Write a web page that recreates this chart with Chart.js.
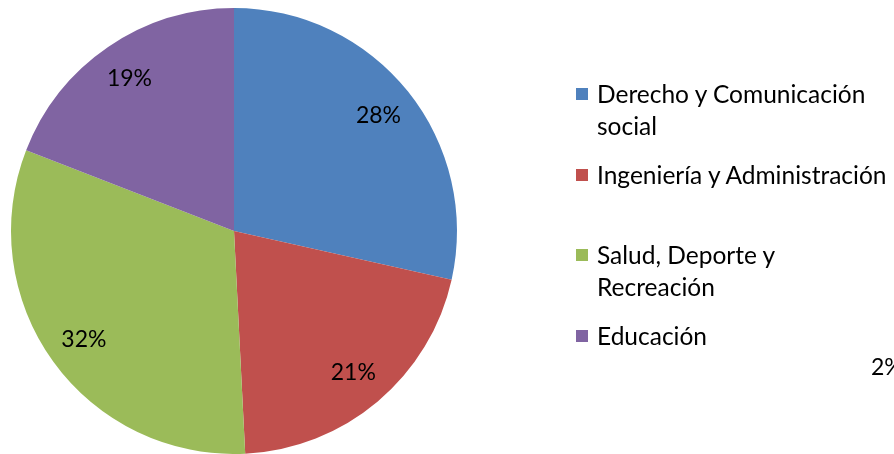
<!DOCTYPE html>
<html>
<head>
<meta charset="utf-8">
<script src="https://cdn.jsdelivr.net/npm/chart.js@4.4.1/dist/chart.umd.min.js"></script>
<style>
  html, body { margin: 0; padding: 0; background: #fff; overflow: hidden; }
  #wrap { position: relative; width: 894px; height: 454px; overflow: hidden; font-family: Lato, "Open Sans", sans-serif; color: #000; }
  #chart { position: absolute; left: 0; top: 0; }
  .item { position: absolute; left: 576px; font-size: 24.5px; line-height: 32px; white-space: nowrap; }
  .item .box { position: absolute; left: 0; top: 10px; width: 12px; height: 12px; }
  .item .txt { position: absolute; left: 21px; top: 0; }
  #stray { position: absolute; left: 871px; top: 352px; font-size: 23px; white-space: nowrap; }
</style>
</head>
<body>
<div id="wrap">
  <canvas id="chart" width="894" height="454"></canvas>
  <div id="legend"></div>
  <div id="stray">2%</div>
</div>
<script>
// categories (legend lines) and share of each slice, in percent
const categories = [
  ["Derecho y Comunicación", "social"],
  ["Ingeniería y Administración"],
  ["Salud, Deporte y", "Recreación"],
  ["Educación"]
];
const shares = [28.5, 20.7, 31.7, 19.1];
const shareLabels = ["28%", "21%", "32%", "19%"];
const colors = ["#4F81BD", "#C0504D", "#9BBB59", "#8064A2"];

// legend built in html
const legend = document.getElementById("legend");
categories.forEach((lines, i) => {
  const el = document.createElement("div");
  el.className = "item";
  el.style.top = (78 + i * 80.5) + "px";
  el.innerHTML = `<span class="box" style="background:${colors[i]}"></span><span class="txt">${lines.join("<br>")}</span>`;
  legend.appendChild(el);
});

// percent labels inside the slices
const sliceLabels = {
  id: "sliceLabels",
  afterDatasetsDraw(chart) {
    const ctx = chart.ctx;
    const meta = chart.getDatasetMeta(0);
    ctx.save();
    ctx.font = "23px Lato, 'Open Sans', sans-serif";
    ctx.fillStyle = "#000";
    ctx.textAlign = "center";
    ctx.textBaseline = "middle";
    meta.data.forEach((arc, i) => {
      const p = arc.getProps(["x", "y", "startAngle", "endAngle", "outerRadius"], true);
      const mid = (p.startAngle + p.endAngle) / 2;
      const r = p.outerRadius * 0.83;
      ctx.fillText(shareLabels[i], p.x + Math.cos(mid) * r, p.y + Math.sin(mid) * r);
    });
    ctx.restore();
  }
};

new Chart(document.getElementById("chart"), {
  type: "pie",
  data: {
    labels: categories.map(l => l.join(" ")),
    datasets: [{
      data: shares,
      backgroundColor: colors,
      borderWidth: 0
    }]
  },
  options: {
    responsive: false,
    animation: false,
    layout: { padding: { left: 11, right: 437, top: 8, bottom: 0 } },
    plugins: {
      legend: { display: false },
      tooltip: { enabled: false }
    }
  },
  plugins: [sliceLabels]
});
</script>
</body>
</html>
